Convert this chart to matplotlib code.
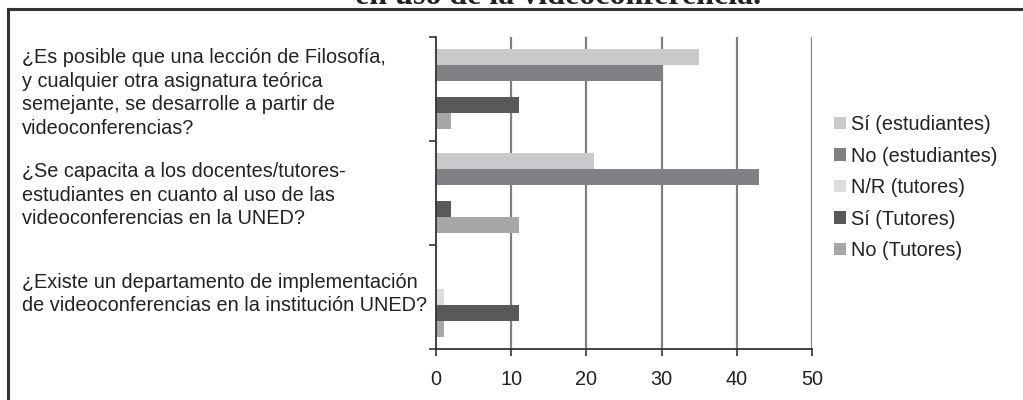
import matplotlib
matplotlib.use("Agg")
import matplotlib.pyplot as plt
import numpy as np
from matplotlib.patches import Patch
from matplotlib.lines import Line2D

plt.rcParams['font.family'] = ['Liberation Sans', 'DejaVu Sans']

categories = [
    "¿Es posible que una lección de Filosofía,\ny cualquier otra asignatura teórica\nsemejante, se desarrolle a partir de\nvideoconferencias?",
    "¿Se capacita a los docentes/tutores-\nestudiantes en cuanto al uso de las\nvideoconferencias en la UNED?",
    "¿Existe un departamento de implementación\nde videoconferencias en la institución UNED?",
]
series_names = ["Sí (estudiantes)", "No (estudiantes)", "N/R (tutores)", "Sí (Tutores)", "No (Tutores)"]
si_estudiantes = [35, 21, 0]
no_estudiantes = [30, 43, 0]
nr_tutores = [0, 0, 1]
si_tutores = [11, 2, 11]
no_tutores = [2, 11, 1]
x_ticks = [0, 10, 20, 30, 40, 50]
title = "en uso de la videoconferencia."

series_values = [si_estudiantes, no_estudiantes, nr_tutores, si_tutores, no_tutores]
colors = ["#c8c9cb", "#808184", "#dcdddf", "#58595b", "#a6a7a9"]

FS = 14.3
W, H = 1023, 400
fig = plt.figure(figsize=(W / 100, H / 100), dpi=100)
ax = fig.add_axes([436 / W, (H - 349) / H, (812 - 436) / W, (349 - 37) / H])

n = len(series_names)
h = 1 / (n + 1.5)
y = np.arange(len(categories))
for i, (name, vals, c) in enumerate(zip(series_names, series_values, colors)):
    ax.barh(y + (i - (n - 1) / 2) * h, vals, height=h, color=c, label=name, zorder=3)

ax.set_xlim(0, 50)
ax.set_ylim(len(categories) - 0.5, -0.5)
ax.set_xticks(x_ticks)
ax.set_xticklabels([str(t) for t in x_ticks], fontsize=FS, color="#222222")
ax.set_yticks(np.arange(len(categories) + 1) - 0.5)
ax.set_yticklabels([])
ax.tick_params(axis='y', length=5, width=1.2, color="#333333", direction='out')
ax.tick_params(axis='x', length=5, width=1.2, color="#333333", direction='out', pad=10)
for sp in ['top', 'right']:
    ax.spines[sp].set_visible(False)
for sp in ['left', 'bottom']:
    ax.spines[sp].set_color("#333333")
    ax.spines[sp].set_linewidth(1.3)
    ax.spines[sp].set_zorder(4)
for t in x_ticks[1:]:
    ax.axvline(t, color="#808080", lw=1.6, zorder=1)

# category labels
label_y = [93, 195, 294]
for lab, yy in zip(categories, label_y):
    fig.text(22 / W, (H - yy) / H, lab, ha='left', va='center', fontsize=FS,
             color="#222222", linespacing=1.3)

# legend
handles = [Patch(facecolor=c, edgecolor='none') for c in colors]
leg = fig.legend(handles, series_names, loc='upper left',
                 bbox_to_anchor=(834 / W, (H - 115) / H), frameon=False,
                 fontsize=FS, handlelength=0.6, handleheight=0.6,
                 handletextpad=0.25, labelspacing=0.63, borderpad=0, borderaxespad=0)
for t in leg.get_texts():
    t.set_color("#222222")

# border
fig.add_artist(Line2D([8 / W, 8 / W], [0, (H - 9) / H], color="#333333", lw=2.2))
fig.add_artist(Line2D([8 / W, 1], [(H - 9) / H, (H - 9) / H], color="#333333", lw=2.2))

# clipped title (cut off at the top edge as in the reference)
fig.text(558 / W, (H - 3.5) / H, title, ha='center', va='baseline', fontsize=23,
         fontweight='bold', family=['Liberation Serif', 'DejaVu Serif'], color="#222222")

fig.savefig("out.png", dpi=100)
